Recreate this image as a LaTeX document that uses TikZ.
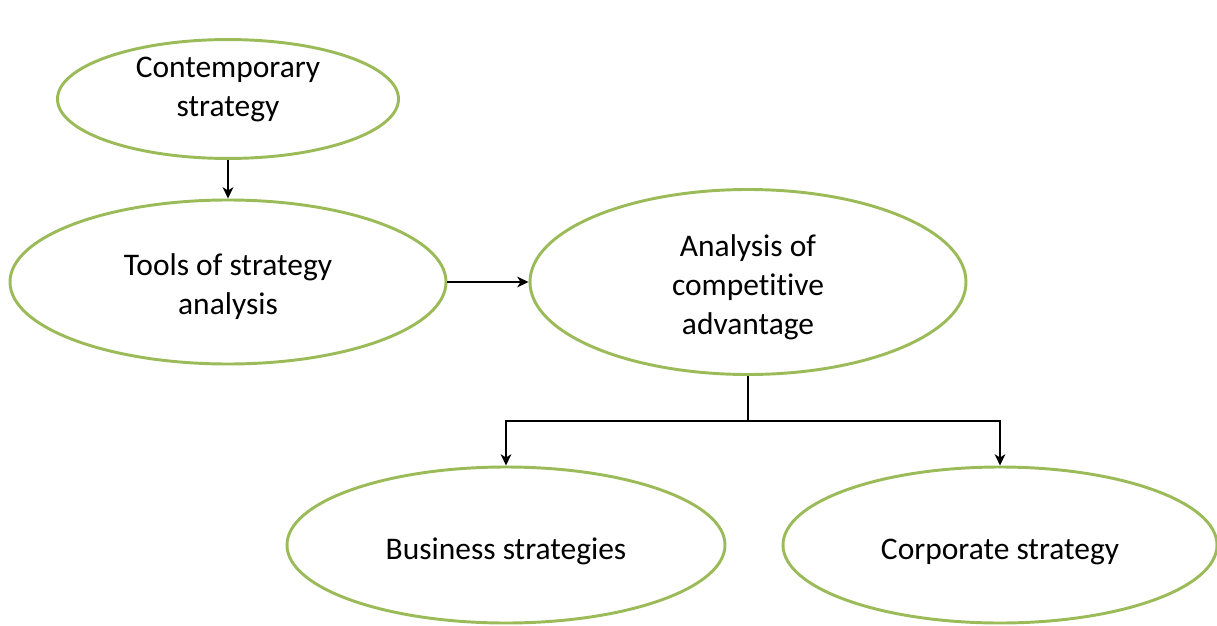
\documentclass[tikz,border=0pt]{standalone}
\usepackage{fontspec}
\setmainfont{Carlito}[Ligatures=NoCommon]
\usepackage{tikz}
\usetikzlibrary{shapes.geometric,arrows.meta}
\definecolor{leafgreen}{HTML}{9BBB59}

\begin{document}
\begin{tikzpicture}[x=0.75pt,y=-0.75pt,
	topic/.style={ellipse, draw=leafgreen, line width=2.2pt, inner sep=0pt, align=center,
		font=\fontsize{23.6}{29.25}\selectfont},
	link/.style={-{Stealth[length=8.5pt,width=8pt,inset=2.5pt]}, line width=1pt}]
	\useasboundingbox (0,0) rectangle (1217,625);
	% the ovals, text nudged a little as in the original
	\node[topic, minimum width=255.75pt, minimum height=87.75pt] (cs) at (228,99) {Contemporary\\strategy\rule[-18.5pt]{0pt}{0pt}};
	\node[topic, minimum width=327pt, minimum height=123pt] (tools) at (228,282) {\rule{0pt}{24pt}Tools of strategy\\analysis};
	\node[topic, minimum width=327pt, minimum height=138.75pt] (adv) at (748,282) {\rule{0pt}{24pt}Analysis of\\competitive\\advantage};
	\node[topic, minimum width=328.5pt, minimum height=117pt, text height=27pt, text depth=5pt] (bus) at (506,545) {Business strategies};
	\node[topic, minimum width=325.5pt, minimum height=117pt, text height=27pt, text depth=5pt] (corp) at (1000,545) {Corporate strategy};
	\coordinate (split) at (748,421);
	% connectors
	\draw[link] (cs.south) -- (tools.north);
	\draw[link] (tools.east) -- (adv.west);
	\draw[line width=1pt] (adv.south) -- (split);
	\draw[link] (split) -| (bus.north);
	\draw[link] (split) -| (corp.north);
\end{tikzpicture}
\end{document}
